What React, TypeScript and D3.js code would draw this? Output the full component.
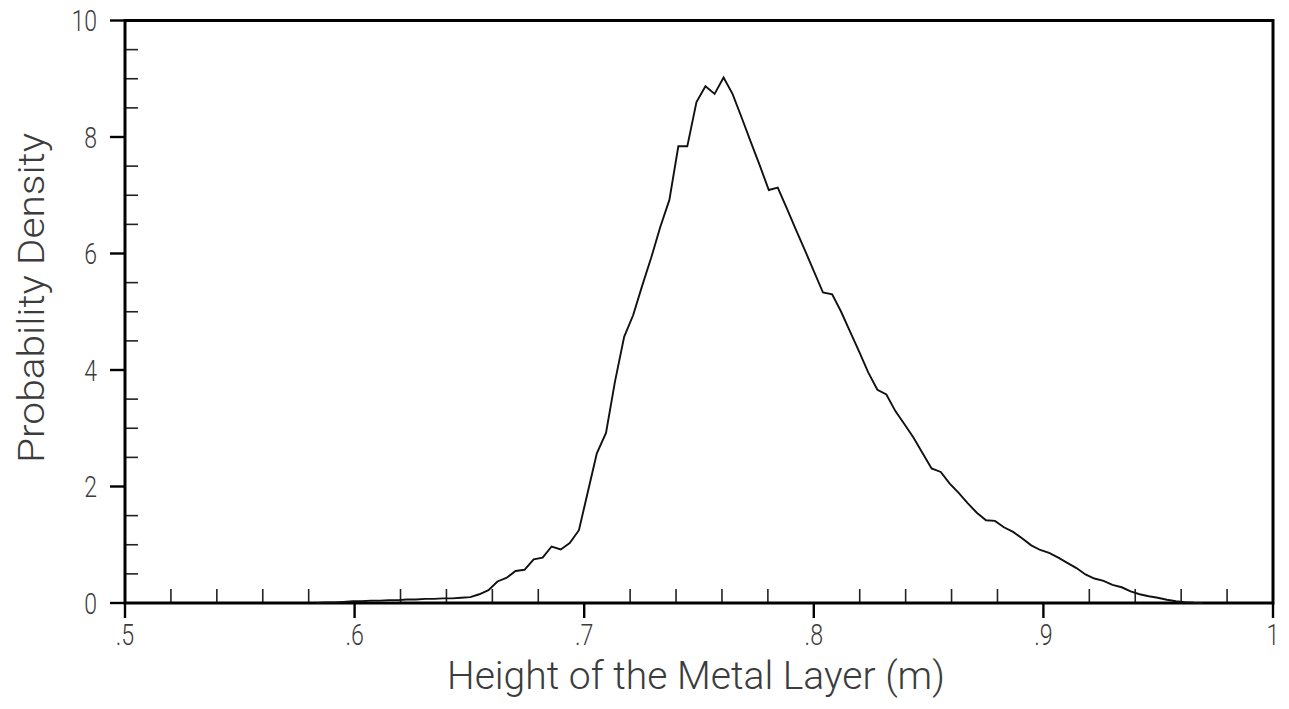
import React from "react";
import * as d3 from "d3";

const heights = [
  0.5834, 0.5873, 0.5913, 0.5952, 0.5992, 0.6031, 0.6070, 0.6110, 0.6149, 0.6189,
  0.6228, 0.6267, 0.6307, 0.6346, 0.6386, 0.6425, 0.6464, 0.6504, 0.6543, 0.6583,
  0.6622, 0.6661, 0.6701, 0.6740, 0.6780, 0.6819, 0.6858, 0.6898, 0.6937, 0.6977,
  0.7016, 0.7055, 0.7095, 0.7134, 0.7174, 0.7213, 0.7252, 0.7292, 0.7331, 0.7371,
  0.7410, 0.7449, 0.7489, 0.7528, 0.7568, 0.7607, 0.7646, 0.7686, 0.7725, 0.7765,
  0.7804, 0.7843, 0.7883, 0.7922, 0.7962, 0.8001, 0.8040, 0.8080, 0.8119, 0.8159,
  0.8198, 0.8237, 0.8277, 0.8316, 0.8356, 0.8395, 0.8434, 0.8474, 0.8513, 0.8553,
  0.8592, 0.8631, 0.8671, 0.8710, 0.8750, 0.8789, 0.8828, 0.8868, 0.8907, 0.8947,
  0.8986, 0.9025, 0.9065, 0.9104, 0.9144, 0.9183, 0.9222, 0.9262, 0.9301, 0.9341,
  0.9380, 0.9419, 0.9459, 0.9498, 0.9538, 0.9577, 0.9616, 0.9656, 0.9695,
];

const densities = [
  0.0, 0.01, 0.01, 0.02, 0.03, 0.03, 0.04, 0.04, 0.05, 0.05,
  0.06, 0.06, 0.07, 0.07, 0.08, 0.08, 0.09, 0.10, 0.15, 0.22,
  0.37, 0.43, 0.55, 0.57, 0.75, 0.78, 0.97, 0.92, 1.03, 1.25,
  1.91, 2.57, 2.92, 3.80, 4.57, 4.94, 5.44, 5.93, 6.45, 6.92,
  7.84, 7.84, 8.60, 8.87, 8.74, 9.02, 8.74, 8.33, 7.92, 7.51,
  7.09, 7.13, 6.77, 6.41, 6.05, 5.69, 5.33, 5.30, 5.00, 4.65,
  4.31, 3.96, 3.66, 3.58, 3.29, 3.07, 2.84, 2.57, 2.31, 2.25,
  2.05, 1.89, 1.71, 1.55, 1.42, 1.41, 1.30, 1.22, 1.11, 0.99,
  0.91, 0.86, 0.78, 0.69, 0.60, 0.49, 0.42, 0.38, 0.31, 0.27,
  0.20, 0.15, 0.115, 0.09, 0.055, 0.03, 0.015, 0.004, 0.0,
];

const xMajorTicks = [0.5, 0.6, 0.7, 0.8, 0.9, 1.0];
const xMajorLabels = [".5", ".6", ".7", ".8", ".9", "1"];
const xMinorTicks = [0.52, 0.54, 0.56, 0.58, 0.62, 0.64, 0.66, 0.68, 0.72, 0.74, 0.76, 0.78, 0.82, 0.84, 0.86, 0.88, 0.92, 0.94, 0.96, 0.98];
const yMajorTicks = [0, 2, 4, 6, 8, 10];
const yMajorLabels = ["0", "2", "4", "6", "8", "10"];
const yMinorTicks = [0.5, 1, 1.5, 2.5, 3, 3.5, 4.5, 5, 5.5, 6.5, 7, 7.5, 8.5, 9, 9.5];

const xTitle = "Height of the Metal Layer (m)";
const yTitle = "Probability Density";

const W = 1289;
const H = 709;
const left = 125;
const right = 1273;
const top = 20.5;
const bottom = 603;
const FONT = "Roboto, 'Open Sans', 'DejaVu Sans', sans-serif";
const TEXT = "#3c3c3c";

export default function App() {
  const x = d3.scaleLinear().domain([0.5, 1]).range([left, right]);
  const y = d3.scaleLinear().domain([0, 10]).range([bottom, top]);
  const pts: [number, number][] = heights.map((h, i) => [h, densities[i]]);
  const line = d3
    .line<[number, number]>()
    .x((d) => x(d[0]))
    .y((d) => y(d[1]))
    .curve(d3.curveLinear);

  return (
    <svg
      width={W}
      height={H}
      viewBox={`0 0 ${W} ${H}`}
      style={{ position: "absolute", left: 0, top: 0, background: "#fff" }}
    >
      <rect x={0} y={0} width={W} height={H} fill="#fff" />
      {/* minor ticks */}
      {xMinorTicks.map((t) => (
        <line key={"xm" + t} x1={x(t)} x2={x(t)} y1={bottom} y2={bottom - 14} stroke="#222" strokeWidth={1.6} />
      ))}
      {yMinorTicks.map((t) => (
        <line key={"ym" + t} x1={left} x2={left + 13} y1={y(t)} y2={y(t)} stroke="#222" strokeWidth={1.6} />
      ))}
      {/* major ticks */}
      {xMajorTicks.map((t) => (
        <line key={"xM" + t} x1={x(t)} x2={x(t)} y1={bottom} y2={bottom + 15} stroke="#000" strokeWidth={2.4} />
      ))}
      {yMajorTicks.map((t) => (
        <line key={"yM" + t} x1={left - 15} x2={left} y1={y(t)} y2={y(t)} stroke="#000" strokeWidth={2.4} />
      ))}
      {/* frame */}
      <path
        d={`M${left},${top} L${right},${top} L${right},${bottom} L${left},${bottom} Z`}
        fill="none"
        stroke="#000"
        strokeWidth={3}
      />
      {/* curve */}
      <path d={line(pts) || ""} fill="none" stroke="#111" strokeWidth={1.9} strokeLinejoin="miter" />
      {/* tick labels */}
      {xMajorTicks.map((t, i) => (
        <text
          key={"xl" + t}
          transform={`translate(${x(t)},645) scale(0.8,1)`}
          textAnchor="middle"
          fontFamily={FONT}
          fontWeight={300}
          fontSize={29}
          fill={TEXT}
        >
          {xMajorLabels[i]}
        </text>
      ))}
      {yMajorTicks.map((t, i) => (
        <text
          key={"yl" + t}
          transform={`translate(97,${y(t) + 10.5}) scale(0.78,1)`}
          textAnchor="end"
          fontFamily={FONT}
          fontWeight={300}
          fontSize={29.5}
          fill={TEXT}
        >
          {yMajorLabels[i]}
        </text>
      ))}
      {/* axis titles */}
      <text
        x={696}
        y={689}
        textAnchor="middle"
        fontFamily={FONT}
        fontWeight={300}
        fontSize={39}
        fill={TEXT}
        textLength={498}
        lengthAdjust="spacingAndGlyphs"
      >
        {xTitle}
      </text>
      <text
        transform={`translate(44,298) rotate(-90)`}
        textAnchor="middle"
        fontFamily={FONT}
        fontWeight={300}
        fontSize={36}
        fill={TEXT}
        textLength={330}
        lengthAdjust="spacingAndGlyphs"
      >
        {yTitle}
      </text>
    </svg>
  );
}
